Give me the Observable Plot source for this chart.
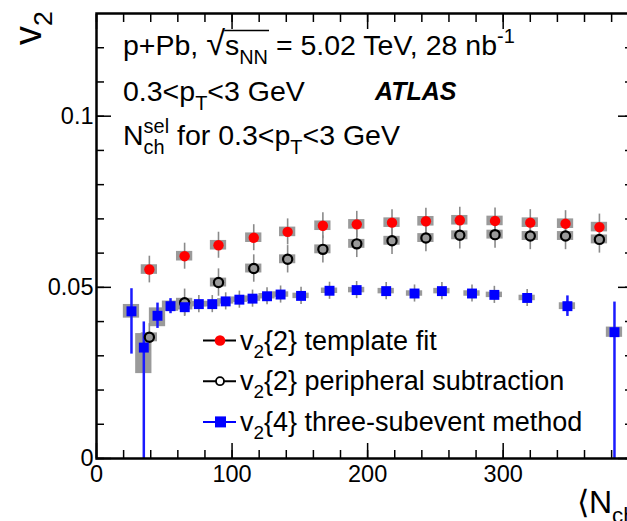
<!DOCTYPE html>
<html><head><meta charset="utf-8">
<script src="https://cdn.jsdelivr.net/npm/d3@7"></script>
<script src="https://cdn.jsdelivr.net/npm/@observablehq/plot@0.6"></script>
<style>
html,body{margin:0;padding:0;background:#fff;overflow:hidden;}
#chart svg{max-width:none !important;}
svg text{font-family:"Liberation Sans",Arial,Helvetica,sans-serif;}
</style></head><body><div id="chart"></div>
<script>
// ---- data ----
const nchTwo = [39, 65, 90, 116, 141, 167, 192, 218, 243, 268, 294, 320, 346, 371];
const v2TemplateFit = [0.0552, 0.0591, 0.0623, 0.0645, 0.0662, 0.0680, 0.0684, 0.0689, 0.0693, 0.0696, 0.0694, 0.0689, 0.0686, 0.0676];
const v2TemplateStat = [0.0039, 0.0038, 0.0038, 0.0038, 0.0038, 0.0038, 0.0038, 0.0038, 0.0038, 0.0038, 0.0038, 0.0038, 0.0038, 0.0038];
const v2TemplateSys = [0.0014, 0.0014, 0.0014, 0.0014, 0.0014, 0.0014, 0.0014, 0.0014, 0.0014, 0.0014, 0.0014, 0.0014, 0.0014, 0.0014];
const v2Peripheral = [0.0354, 0.0455, 0.0514, 0.0555, 0.0582, 0.0611, 0.0627, 0.0636, 0.0644, 0.0652, 0.0654, 0.0650, 0.0650, 0.0640];
const v2PeripheralStat = [0.0040, 0.0040, 0.0040, 0.0040, 0.0040, 0.0040, 0.0040, 0.0040, 0.0040, 0.0040, 0.0040, 0.0040, 0.0040, 0.0040];
const v2PeripheralSys = [0.0013, 0.0013, 0.0013, 0.0013, 0.0013, 0.0013, 0.0013, 0.0013, 0.0013, 0.0013, 0.0013, 0.0013, 0.0013, 0.0013];
const nchFour = [25.8, 34.9, 45.0, 54.6, 65.1, 75.5, 85.4, 95.3, 105.4, 115.1, 125.8, 135.8, 150.9, 171.9, 191.9, 213.7, 234.6, 254.8, 277.0, 293.5, 317.7, 347.4, 382.1];
const v2ThreeSub = [0.0430, 0.0324, 0.0417, 0.0445, 0.0442, 0.0451, 0.0451, 0.0459, 0.0464, 0.0467, 0.0474, 0.0479, 0.0475, 0.0490, 0.0492, 0.0489, 0.0482, 0.0489, 0.0482, 0.0478, 0.0469, 0.0445, 0.0369];
const v2ThreeSubStatUp = [0.0066, 0.0075, 0.0037, 0.0022, 0.0025, 0.0025, 0.0025, 0.0025, 0.0025, 0.0025, 0.0025, 0.0025, 0.0025, 0.0025, 0.0025, 0.0025, 0.0025, 0.0025, 0.0025, 0.0025, 0.0025, 0.0030, 0.0088];
const v2ThreeSubStatDown = [0.0125, 0.0450, 0.0037, 0.0022, 0.0025, 0.0025, 0.0025, 0.0025, 0.0025, 0.0025, 0.0025, 0.0025, 0.0025, 0.0025, 0.0025, 0.0025, 0.0025, 0.0025, 0.0025, 0.0025, 0.0025, 0.0030, 0.0450];
const v2ThreeSubSysUp = [0.0020, 0.0041, 0.0023, 0.0015, 0.0008, 0.0008, 0.0008, 0.0008, 0.0008, 0.0008, 0.0008, 0.0008, 0.0008, 0.0008, 0.0008, 0.0008, 0.0008, 0.0008, 0.0008, 0.0008, 0.0008, 0.0010, 0.0015];
const v2ThreeSubSysDown = [0.0020, 0.0076, 0.0032, 0.0015, 0.0008, 0.0008, 0.0008, 0.0008, 0.0008, 0.0008, 0.0008, 0.0008, 0.0008, 0.0008, 0.0008, 0.0008, 0.0008, 0.0008, 0.0008, 0.0008, 0.0008, 0.0010, 0.0015];
const xMajorTicks = [0, 100, 200, 300];
const xMinorTicks = [0, 20, 40, 60, 80, 100, 120, 140, 160, 180, 200, 220, 240, 260, 280, 300, 320, 340, 360, 380];
const yMajorTicks = [0, 0.05, 0.1];
const yMinorTicks = [0, 0.01, 0.02, 0.03, 0.04, 0.05, 0.06, 0.07, 0.08, 0.09, 0.1, 0.11, 0.12];
const legendLabels = ["{2} template fit", "{2} peripheral subtraction", "{4} three-subevent method"];

// ---- tables ----
const tpl = nchTwo.map((x, i) => ({i, x, y: v2TemplateFit[i], up: v2TemplateStat[i], dn: v2TemplateStat[i], sUp: v2TemplateSys[i], sDn: v2TemplateSys[i]}));
const per = nchTwo.map((x, i) => ({i, x, y: v2Peripheral[i], up: v2PeripheralStat[i], dn: v2PeripheralStat[i], sUp: v2PeripheralSys[i], sDn: v2PeripheralSys[i]}));
const sub = nchFour.map((x, i) => ({i, x, y: v2ThreeSub[i], up: v2ThreeSubStatUp[i], dn: v2ThreeSubStatDown[i], sUp: v2ThreeSubSysUp[i], sDn: v2ThreeSubSysDown[i]}));
const blueBarIdx = new Set([0, 1, 2, 3, 21, 22]);

const BOX = 6;
const GREY = "#9a9a9a";
const sysRect = (data) => Plot.rect(data, {x1: d => d.x - BOX, x2: d => d.x + BOX, y1: d => d.y - d.sDn, y2: d => d.y + d.sUp, fill: GREY, clip: true});
const statBar = (data, opts) => Plot.ruleX(data, {x: "x", y1: d => d.y - d.dn, y2: d => d.y + d.up, clip: true, ...opts});

// the frame's right edge lies just past the 627px window, as in the reference
const plot = Plot.plot({
  width: 633, height: 521,
  marginLeft: 96, marginRight: 1, marginTop: 13, marginBottom: 63,
  x: {domain: [0, 395.4]},
  y: {domain: [0, 0.13]},
  style: {fontFamily: '"Liberation Sans",Arial,sans-serif', fontSize: "23px", background: "white", color: "black", maxWidth: "none"},
  marks: [
    sysRect(tpl), sysRect(per), sysRect(sub),
    statBar(tpl, {stroke: "#8a8a8a", strokeWidth: 1.6}),
    statBar(per, {stroke: "#8a8a8a", strokeWidth: 1.6}),
    statBar(sub, {filter: d => !blueBarIdx.has(d.i), stroke: "#8a8a8a", strokeWidth: 1.6}),
    statBar(sub, {filter: d => blueBarIdx.has(d.i), stroke: "#1a1aff", strokeWidth: 2.5}),
    Plot.dot(tpl, {x: "x", y: "y", r: 5.2, fill: "#ff0000"}),
    Plot.dot(per, {x: "x", y: "y", r: 4.6, fill: "#9a9a9a", stroke: "black", strokeWidth: 2.2}),
    Plot.dot(sub, {x: "x", y: "y", r: 5.6, symbol: "square", fill: "#0000ff"}),
    // ticks (inward on all four sides)
    Plot.axisX({ticks: xMinorTicks, anchor: "bottom", tickSize: -8, text: null, label: null, strokeWidth: 1.5}),
    Plot.axisX({ticks: xMajorTicks, anchor: "bottom", tickSize: -15, text: null, label: null, strokeWidth: 1.5}),
    Plot.axisX({ticks: xMinorTicks, anchor: "top", tickSize: -8, text: null, label: null, strokeWidth: 1.5}),
    Plot.axisX({ticks: xMajorTicks, anchor: "top", tickSize: -15, text: null, label: null, strokeWidth: 1.5}),
    Plot.axisY({ticks: yMinorTicks, anchor: "left", tickSize: -8, text: null, label: null, strokeWidth: 1.5}),
    Plot.axisY({ticks: yMajorTicks, anchor: "left", tickSize: -15, text: null, label: null, strokeWidth: 1.5}),
    Plot.axisY({ticks: yMinorTicks, anchor: "right", tickSize: -8, text: null, label: null, strokeWidth: 1.5}),
    Plot.axisY({ticks: yMajorTicks, anchor: "right", tickSize: -15, text: null, label: null, strokeWidth: 1.5}),
    Plot.axisX({ticks: xMajorTicks, anchor: "bottom", tickSize: 0, tickPadding: 7, label: null, tickFormat: d => String(d), fontSize: 23.5}),
    Plot.axisY({ticks: yMajorTicks, anchor: "left", tickSize: 0, tickPadding: 3, label: null, tickFormat: d => String(d), fontSize: 23.5}),
    Plot.frame({stroke: "black", strokeWidth: 2.5})
  ]
});
document.getElementById("chart").append(plot);

// ---- rich text helpers ----
const svg = d3.select(plot);
const ann = svg.append("g").attr("fill", "black").attr("text-anchor", "start");
function rich(x, y, parts, size, attrs = {}) {
  const t = ann.append("text").attr("x", x).attr("y", y).attr("font-size", size).attr("text-anchor", "start");
  for (const k in attrs) t.attr(k, attrs[k]);
  let cur = 0;
  const nodes = [];
  for (const [s, kind = "n"] of parts) {
    let off = 0, fs = size;
    if (kind === "sub") { off = size * 0.3; fs = size * 0.7; }
    if (kind === "sup") { off = -size * 0.42; fs = size * 0.7; }
    if (kind === "big") { fs = size * 1.2; }
    const ts = t.append("tspan").attr("dy", off - cur).attr("font-size", fs).text(s);
    cur = off;
    nodes.push(ts);
  }
  return nodes;
}

// y axis title
rich(41, 45, [["v"], ["2", "sub"]], 38, {transform: "rotate(-90,41,45)"});
// x axis title
rich(577, 513, [["\u27E8N"], ["ch", "sub"], ["\u27E9"]], 32);

// annotations
const ANN = 28.5;
const r1 = rich(123, 55, [["p+Pb, "], ["\u221A", "big"], ["s"], ["NN", "sub"], [" = 5.02 TeV, 28 nb"], ["-1", "sup"]], ANN);
{
  const bR = r1[1].node().getBBox(), bN = r1[3].node().getBBox();
  ann.append("line").attr("x1", bR.x + bR.width - 1).attr("x2", bN.x + bN.width + 1)
    .attr("y1", 30.5).attr("y2", 30.5).attr("stroke", "black").attr("stroke-width", 1.6);
}
rich(123, 101, [["0.3<p"], ["T", "sub"], ["<3 GeV"]], ANN);
rich(375, 100, [["ATLAS"]], 25, {"font-weight": "bold", "font-style": "italic"});
const r3 = rich(123, 145, [["N"], ["sel", "sup"], ["ch", "sub"], [" for 0.3<p"], ["T", "sub"], ["<3 GeV"]], ANN);
{
  const wSel = r3[1].node().getComputedTextLength(), wCh = r3[2].node().getComputedTextLength();
  r3[2].attr("dx", -wSel);
  r3[3].attr("dx", Math.max(0, wSel - wCh));
}

// legend
const legColors = ["black", "black", "#0000ff"];
const leg = ann.append("g");
legendLabels.forEach((lab, i) => {
  const y = 340.5 + 40.7 * i;
  leg.append("line").attr("x1", 203).attr("x2", 236).attr("y1", y).attr("y2", y)
    .attr("stroke", legColors[i]).attr("stroke-width", 2);
  if (i === 0) leg.append("circle").attr("cx", 220).attr("cy", y).attr("r", 5.3).attr("fill", "#ff0000");
  if (i === 1) leg.append("circle").attr("cx", 220).attr("cy", y).attr("r", 4).attr("fill", "white").attr("stroke", "black").attr("stroke-width", 1.8);
  if (i === 2) leg.append("rect").attr("x", 215).attr("y", y - 5.5).attr("width", 11).attr("height", 11).attr("fill", "#0000ff");
  rich(240, y + 9, [["v"], ["2", "sub"], [lab]], 27);
});
</script></body></html>
